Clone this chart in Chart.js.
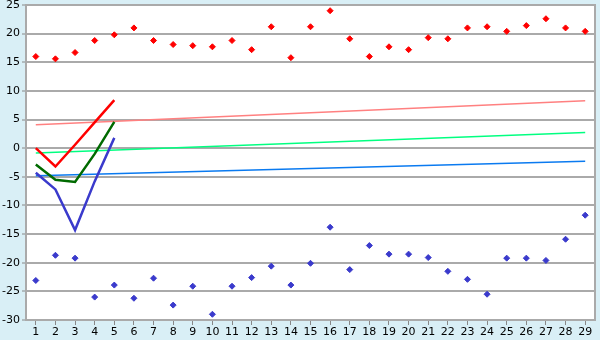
<!DOCTYPE html>
<html>
<head>
<meta charset="utf-8">
<script src="https://cdn.jsdelivr.net/npm/chart.js@4/dist/chart.umd.min.js"></script>
<style>
  html, body { margin: 0; padding: 0; background: #d9eff6; }
  #wrap { width: 600px; height: 340px; }
</style>
</head>
<body>
<div id="wrap"><canvas id="chart" width="600" height="340"></canvas></div>
<script>
const days = [1,2,3,4,5,6,7,8,9,10,11,12,13,14,15,16,17,18,19,20,21,22,23,24,25,26,27,28,29];

const redDots = [16.0,15.6,16.7,18.8,19.8,21.0,18.8,18.1,17.9,17.7,18.8,17.2,21.2,15.8,21.2,24.0,19.1,16.0,17.7,17.2,19.3,19.1,21.0,21.2,20.4,21.4,22.6,21.0,20.4];
const blueDots = [-23.1,-18.7,-19.2,-26.0,-23.9,-26.2,-22.7,-27.4,-24.1,-29.0,-24.1,-22.6,-20.6,-23.9,-20.1,-13.8,-21.2,-17.0,-18.5,-18.5,-19.1,-21.5,-22.9,-25.5,-19.2,-19.2,-19.6,-15.9,-11.7];

const redLine = [0, -3.2, 0.6, 4.5, 8.4];
const greenLine = [-2.85, -5.5, -5.9, -1.0, 4.6];
const blueLine = [-4.3, -7.2, -14.3, -5.8, 1.8];

// trend lines: only the two end values, gaps spanned
const redTrend = [4.1, 8.3];
const greenTrend = [-0.85, 2.75];
const blueTrend = [-4.8, -2.3];

const yTicks = [-30,-25,-20,-15,-10,-5,0,5,10,15,20,25];

function endsOnly(pair) {
    const arr = days.map(() => null);
    arr[0] = pair[0];
    arr[arr.length - 1] = pair[1];
    return arr;
}

const plotBg = {
    id: "plotBg",
    beforeDraw(chart) {
        const { ctx, chartArea: a } = chart;
        ctx.save();
        ctx.fillStyle = "#ffffff";
        ctx.fillRect(a.left, a.top, a.right - a.left, a.bottom - a.top);
        ctx.restore();
    },
    afterDraw(chart) {
        const { ctx, chartArea: a } = chart;
        ctx.save();
        ctx.strokeStyle = "#aaaaaa";
        ctx.lineWidth = 2;
        ctx.strokeRect(a.left, a.top, a.right - a.left, a.bottom - a.top);
        ctx.restore();
    }
};

const dot = (data, color) => ({
    data: data,
    showLine: false,
    pointStyle: "rectRot",
    pointRadius: 3,
    pointBackgroundColor: color,
    pointBorderColor: color,
    borderColor: color,
    order: 1,
});

const thick = (data, color) => ({
    data: data,
    borderColor: color,
    borderWidth: 2.5,
    pointRadius: 0,
    tension: 0,
    order: 2,
});

const trend = (pair, color) => ({
    data: endsOnly(pair),
    borderColor: color,
    borderWidth: 1.5,
    pointRadius: 0,
    spanGaps: true,
    order: 3,
});

new Chart(document.getElementById("chart").getContext("2d"), {
    type: "line",
    data: {
        labels: days,
        datasets: [
            dot(redDots, "#ff0000"),
            dot(blueDots, "#3a3acc"),
            thick(redLine, "#ff0000"),
            thick(greenLine, "#006a00"),
            thick(blueLine, "#3a3acc"),
            trend(redTrend, "#ff8080"),
            trend(greenTrend, "#00ff80"),
            trend(blueTrend, "#0a7af0"),
        ],
    },
    options: {
        responsive: false,
        animation: false,
        layout: { padding: { left: 0, right: 5, top: 0, bottom: 0 } },
        plugins: {
            legend: { display: false },
            tooltip: { enabled: false },
        },
        scales: {
            x: {
                offset: true,
                grid: {
                    offset: false,
                    drawOnChartArea: false,
                    color: "#888888",
                    tickLength: 5,
                },
                border: { color: "#aaaaaa", width: 2 },
                ticks: {
                    color: "#000000",
                    font: { family: "DejaVu Sans", size: 11 },
                    maxRotation: 0,
                    autoSkip: false,
                    padding: 1,
                },
                afterFit(scale) { scale.height = 20; },
            },
            y: {
                min: -30,
                max: 25,
                afterBuildTicks(scale) { scale.ticks = yTicks.map(v => ({ value: v })); },
                grid: {
                    color: "#aaaaaa",
                    lineWidth: 2,
                    tickLength: 4,
                    tickColor: "#888888",
                    tickWidth: 1,
                },
                border: { color: "#aaaaaa", width: 2 },
                ticks: {
                    color: "#000000",
                    font: { family: "DejaVu Sans", size: 11 },
                    padding: 2,
                },
                afterFit(scale) {
                    scale.width = 26;
                    scale.paddingTop = 5;
                    scale.paddingBottom = 0;
                },
            },
        },
    },
    plugins: [plotBg],
});
</script>
</body>
</html>
